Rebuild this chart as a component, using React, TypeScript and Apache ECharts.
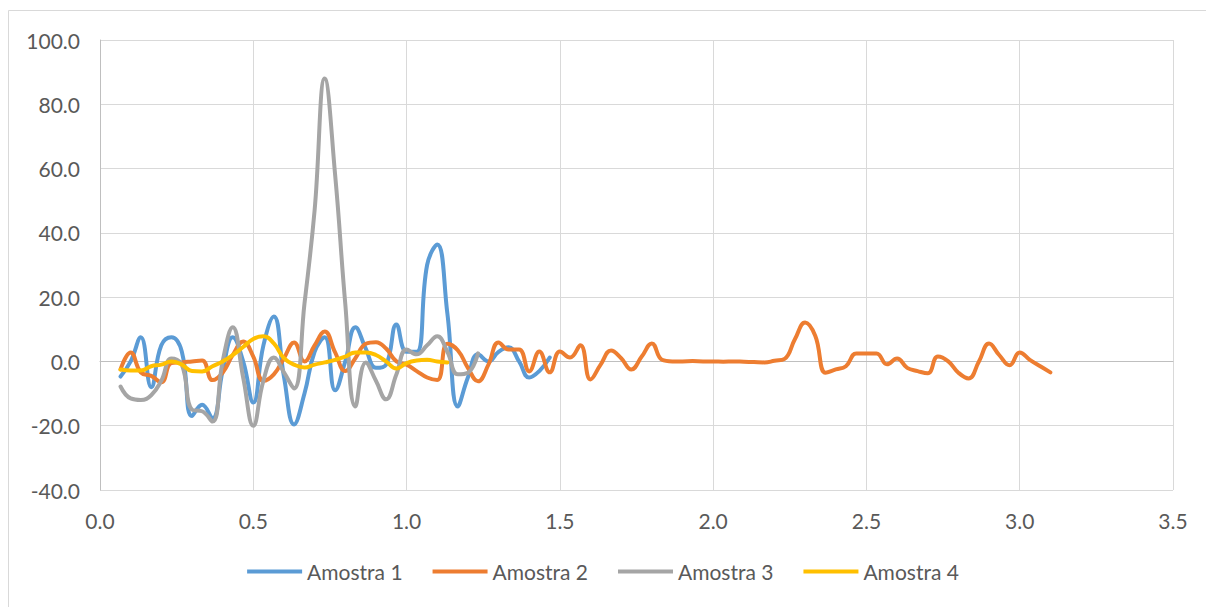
import React, { useEffect, useRef } from "react";
import * as echarts from "echarts";

// Sample times (s)
const times = [
  0.067, 0.1, 0.133, 0.167, 0.2, 0.233, 0.267, 0.3, 0.333, 0.367,
  0.4, 0.433, 0.467, 0.5, 0.533, 0.567, 0.6, 0.633, 0.667, 0.7,
  0.733, 0.767, 0.8, 0.833, 0.867, 0.9, 0.933, 0.967, 1.0, 1.033,
  1.067, 1.1, 1.133, 1.167, 1.2, 1.233, 1.267, 1.3, 1.333, 1.367,
  1.4, 1.433, 1.467, 1.5, 1.533, 1.567, 1.6, 1.633, 1.667, 1.7,
  1.733, 1.767, 1.8, 1.833, 1.867, 1.9, 1.933, 1.967, 2.0, 2.033,
  2.067, 2.1, 2.133, 2.167, 2.2, 2.233, 2.267, 2.3, 2.333, 2.367,
  2.4, 2.433, 2.467, 2.5, 2.533, 2.567, 2.6, 2.633, 2.667, 2.7,
  2.733, 2.767, 2.8, 2.833, 2.867, 2.9, 2.933, 2.967, 3.0, 3.033,
  3.067, 3.1,
];

const amostra1 = [
  -4.7, 0, 7.5, -8, 5, 7.5, 3, -17, -13.5, -17.7,
  -3, 7.5, 0, -12.8, 5, 14, -4.7, -19.6, -10, 3,
  7.5, -9, 0, 10.6, 4, -2, -1, 11.5, 3, 3,
  30, 36.4, 15, -14, -5, 2.2, 0, 3, 4.4, 0,
  -5, -3, 1.2,
];

const amostra2 = [
  -2.5, 2.8, -3.4, -4.5, -6.5, -0.5, -0.3, 0, 0.3, -5.8,
  -3.5, 2, 6.2, 1.5, -6, -4, 1, 5.9, 0, 5,
  9.3, 2.8, -3, 1, 5.5, 6, 4, 0, -1, -3,
  -5, -5.8, 5.5, 3.5, -2, -6.2, -1, 5.9, 3.7, 3.7,
  -3.1, 3.1, -3.4, 3.1, 1.2, 5, -5.6, -1, 3.4, 1,
  -2.5, 1.5, 5.6, 0.5, 0, 0, 0.1, 0, 0, -0.1,
  0, -0.1, -0.2, -0.3, 0.2, 0.8, 7, 12.1, 8, -3.5,
  -2.5, -1.5, 2.5, 2.5, 2.5, -0.9, 0.9, -2, -3, -3.7,
  1.5, 0, -3.5, -5.3, 0, 5.6, 2, -1.2, 2.8, 0.5,
  -1.5, -3.4,
];

const amostra3 = [
  -7.8, -11.5, -12, -10.5, -6, 0.9, -1, -15, -15.5, -18.7,
  0, 10.6, -5, -20, -6, 1.2, -3.4, -8.4, 18, 47,
  88, 58, 18, -14, -0.3, -6, -11.8, -4, 3.7, 2.2,
  5, 7.8, 3, -4, -3.5, 2.5,
];

const amostra4 = [
  -2.5, -2.8, -2.8, -1.5, -1, 0, -1, -3, -3.1, -1.5,
  0, 2, 4.5, 7, 7.8, 5.6, 1, -1, -1.9, -1,
  -0.3, 0.5, 1.5, 2.8, 2.8, 2, 0, -2.2, -0.5, 0.3,
  0.5, 0, -0.3,
];

const seriesNames = ["Amostra 1", "Amostra 2", "Amostra 3", "Amostra 4"];
const seriesValues = [amostra1, amostra2, amostra3, amostra4];
const seriesColors = ["#5b9bd5", "#ed7d31", "#a5a5a5", "#ffc000"];

const FONT = "Lato, 'Open Sans', sans-serif";

export default function App() {
  const ref = useRef<HTMLDivElement>(null);

  useEffect(() => {
    if (!ref.current) return;
    const chart = echarts.init(ref.current, null, { renderer: "svg" });

    const series = seriesValues.map((vals, i) => ({
      name: seriesNames[i],
      type: "line",
      xAxisIndex: 0,
      yAxisIndex: 0,
      data: vals.map((v, j) => [times[j], v]),
      smooth: 0.45,
      showSymbol: false,
      symbol: "none",
      lineStyle: { color: seriesColors[i], width: 4, cap: "round", join: "round" },
      itemStyle: { color: seriesColors[i] },
    }));

    chart.setOption({
      animation: false,
      backgroundColor: "#ffffff",
      textStyle: { fontFamily: FONT },
      graphic: [
        {
          type: "rect",
          shape: { x: 8.5, y: 10.5, width: 1300, height: 700 },
          style: { fill: "none", stroke: "#d9d9d9", lineWidth: 1 },
          silent: true,
          z: -10,
        },
      ],
      grid: { left: 100, right: 33, top: 40, bottom: 117, containLabel: false },
      legend: {
        data: seriesNames,
        bottom: 20,
        left: "center",
        icon: "rect",
        itemWidth: 55,
        itemHeight: 4,
        itemGap: 30,
        textStyle: { fontFamily: FONT, fontSize: 21, color: "#595959" },
      },
      xAxis: [
        {
          type: "value",
          position: "bottom",
          min: 0,
          max: 3.5,
          interval: 0.5,
          axisLine: { show: false, onZero: false },
          axisTick: { show: false },
          splitLine: { show: true, lineStyle: { color: "#d9d9d9", width: 1 } },
          axisLabel: {
            margin: 20,
            fontFamily: FONT,
            fontSize: 21,
            color: "#595959",
            formatter: (v: number) => v.toFixed(1),
          },
        },
        {
          type: "value",
          position: "bottom",
          min: 0,
          max: 3.5,
          interval: 0.5,
          axisLine: { show: true, onZero: true, lineStyle: { color: "#bfbfbf", width: 1 } },
          axisTick: { show: false },
          axisLabel: { show: false },
          splitLine: { show: false },
        },
      ],
      yAxis: {
        type: "value",
        min: -40,
        max: 100,
        interval: 20,
        axisLine: { show: true, lineStyle: { color: "#bfbfbf", width: 1 } },
        axisTick: { show: false },
        splitLine: { show: true, lineStyle: { color: "#d9d9d9", width: 1 } },
        axisLabel: {
          margin: 20,
          fontFamily: FONT,
          fontSize: 21,
          color: "#595959",
          formatter: (v: number) => v.toFixed(1),
        },
      },
      series,
    });

    return () => chart.dispose();
  }, []);

  return (
    <div
      ref={ref}
      style={{ position: "fixed", left: 0, top: 0, width: 1206, height: 607, background: "#fff" }}
    />
  );
}
